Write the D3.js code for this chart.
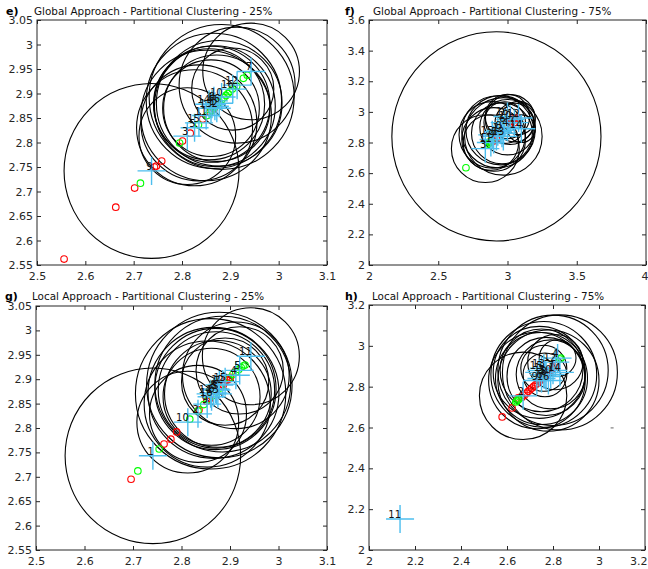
<!DOCTYPE html>
<html>
<head>
<meta charset="utf-8">
<script src="https://cdn.jsdelivr.net/npm/d3@7"></script>
<style>
  body { margin: 0; background: #fff; }
  text { font-family: "DejaVu Sans", Verdana, sans-serif; }
</style>
</head>
<body>
<svg id="chart" width="648" height="569"></svg>
<script>
// Eixos de cada painel
var eTicksX = [2.5, 2.6, 2.7, 2.8, 2.9, 3, 3.1];
var eTicksY = [2.55, 2.6, 2.65, 2.7, 2.75, 2.8, 2.85, 2.9, 2.95, 3, 3.05];
var fTicksX = [2, 2.5, 3, 3.5, 4];
var fTicksY = [2, 2.2, 2.4, 2.6, 2.8, 3, 3.2, 3.4, 3.6];
var gTicksX = [2.5, 2.6, 2.7, 2.8, 2.9, 3, 3.1];
var gTicksY = [2.55, 2.6, 2.65, 2.7, 2.75, 2.8, 2.85, 2.9, 2.95, 3, 3.05];
var hTicksX = [2, 2.2, 2.4, 2.6, 2.8, 3, 3.2];
var hTicksY = [2, 2.2, 2.4, 2.6, 2.8, 3, 3.2];

// Clusters: [rotulo, x, y, raio]
var eClusters = [
  ["1", 2.868, 2.874, 0.125], ["2", 2.872, 2.870, 0.11], ["3", 2.811, 2.813, 0.10],
  ["4", 2.862, 2.878, 0.12], ["5", 2.826, 2.830, 0.12], ["6", 2.877, 2.880, 0.13],
  ["7", 2.943, 2.945, 0.10], ["8", 2.866, 2.885, 0.14], ["9", 2.737, 2.742, 0.181],
  ["10", 2.882, 2.893, 0.15], ["11", 2.850, 2.855, 0.135], ["12", 2.914, 2.917, 0.12],
  ["13", 2.860, 2.870, 0.10], ["14", 2.856, 2.878, 0.115], ["15", 2.835, 2.840, 0.12],
  ["16", 2.905, 2.909, 0.085]
];
var eRed = [[2.556, 2.562], [2.663, 2.668], [2.702, 2.707], [2.743, 2.75], [2.747, 2.752],
  [2.758, 2.762], [2.801, 2.803], [2.817, 2.819], [2.843, 2.848], [2.858, 2.862],
  [2.866, 2.869], [2.872, 2.876]];
var eGreen = [[2.714, 2.717], [2.795, 2.799], [2.834, 2.836], [2.852, 2.855], [2.857, 2.861],
  [2.862, 2.866], [2.867, 2.872], [2.872, 2.877], [2.877, 2.882], [2.882, 2.887],
  [2.887, 2.892], [2.891, 2.896], [2.895, 2.900], [2.899, 2.904], [2.904, 2.909],
  [2.913, 2.915], [2.927, 2.931], [2.935, 2.937]];

var fClusters = [
  ["1", 2.93, 2.87, 0.26], ["2", 2.96, 2.86, 0.22], ["3", 2.84, 2.76, 0.245],
  ["4", 3.00, 2.90, 0.20], ["5", 2.92, 2.84, 0.755], ["6", 2.98, 2.93, 0.15],
  ["7", 3.05, 2.93, 0.14], ["8", 2.95, 2.88, 0.25], ["9", 2.90, 2.82, 0.23],
  ["10", 3.02, 2.95, 0.18], ["11", 2.88, 2.80, 0.20], ["12", 3.08, 2.96, 0.12],
  ["13", 2.97, 2.84, 0.28], ["14", 3.10, 2.89, 0.10], ["15", 2.89, 2.85, 0.24],
  ["16", 3.00, 2.97, 0.16]
];
var fRed = [[3.02, 2.92], [3.03, 2.94], [3.04, 2.95], [3.05, 2.96], [3.06, 2.95],
  [3.05, 2.93], [3.07, 2.96], [2.88, 2.80], [2.90, 2.81], [2.92, 2.83]];
var fGreen = [[2.70, 2.635], [2.86, 2.79], [2.87, 2.80], [2.875, 2.805], [2.88, 2.81]];

var gClusters = [
  ["1", 2.741, 2.743, 0.181], ["2", 2.834, 2.829, 0.10], ["3", 2.872, 2.878, 0.12],
  ["4", 2.912, 2.908, 0.11], ["5", 2.920, 2.918, 0.09], ["6", 2.866, 2.872, 0.135],
  ["7", 2.878, 2.888, 0.15], ["8", 2.870, 2.880, 0.125], ["9", 2.853, 2.849, 0.13],
  ["10", 2.813, 2.812, 0.105], ["11", 2.943, 2.947, 0.10], ["12", 2.885, 2.890, 0.14],
  ["13", 2.875, 2.870, 0.11], ["14", 2.860, 2.870, 0.155], ["15", 2.890, 2.895, 0.09],
  ["16", 2.862, 2.864, 0.10]
];
var gRed = [[2.696, 2.695], [2.764, 2.767], [2.778, 2.777], [2.79, 2.792], [2.836, 2.837],
  [2.852, 2.855], [2.858, 2.86], [2.878, 2.885], [2.884, 2.89], [2.886, 2.888],
  [2.889, 2.894], [2.893, 2.898], [2.897, 2.9], [2.901, 2.904]];
var gGreen = [[2.71, 2.712], [2.754, 2.757], [2.817, 2.818], [2.834, 2.835], [2.846, 2.848],
  [2.855, 2.858], [2.864, 2.866], [2.872, 2.874], [2.88, 2.882], [2.898, 2.902],
  [2.906, 2.91], [2.912, 2.915], [2.918, 2.92], [2.923, 2.924], [2.927, 2.927],
  [2.931, 2.929]];

var hClusters = [
  ["1", 2.74, 2.87, 0.20], ["2", 2.67, 2.755, 0.19], ["3", 2.76, 2.86, 0.23],
  ["4", 2.82, 2.94, 0.08], ["5", 2.765, 2.858, 0.095], ["6", 2.75, 2.84, 0.20],
  ["7", 2.80, 2.88, 0.24], ["8", 2.77, 2.85, 0.17], ["9", 2.73, 2.83, 0.21],
  ["10", 2.79, 2.86, 0.15], ["11", 2.135, 2.152, 0], ["12", 2.81, 2.92, 0.12],
  ["13", 2.76, 2.89, 0.10], ["14", 2.83, 2.87, 0.25], ["15", 2.75, 2.88, 0.18],
  ["16", 2.78, 2.83, 0.22]
];
var hRed = [[2.579, 2.652], [2.622, 2.696], [2.648, 2.745], [2.665, 2.748], [2.675, 2.757],
  [2.685, 2.768], [2.692, 2.777], [2.70, 2.785], [2.708, 2.793], [2.716, 2.801],
  [2.724, 2.809], [2.732, 2.817], [2.74, 2.826], [2.748, 2.834], [2.756, 2.843],
  [2.764, 2.852], [2.772, 2.86], [2.78, 2.869], [2.788, 2.878], [2.796, 2.886],
  [2.804, 2.895], [2.812, 2.903]];
var hGreen = [[2.638, 2.725], [2.643, 2.73], [2.648, 2.735], [2.652, 2.74], [2.83, 2.935],
  [2.835, 2.94]];
var hStray = [[3.057, 2.598]];

var svg = d3.select("#chart");

// Desenha um painel completo
var drawPanel = function (p) {
  var x = d3.scaleLinear().domain(p.xDomain).range([p.left, p.right]);
  var y = d3.scaleLinear().domain(p.yDomain).range([p.bottom, p.top]);
  var g = svg.append("g");

  g.append("clipPath").attr("id", "clip-" + p.id)
    .append("rect")
    .attr("x", p.left).attr("y", p.top)
    .attr("width", p.right - p.left).attr("height", p.bottom - p.top);

  var plot = g.append("g").attr("clip-path", "url(#clip-" + p.id + ")");

  // Circulos dos clusters
  plot.selectAll("circle.big")
    .data(p.clusters.filter(function (d) { return d[3] > 0; }))
    .enter().append("circle")
    .attr("class", "big")
    .attr("cx", function (d) { return x(d[1]); })
    .attr("cy", function (d) { return y(d[2]); })
    .attr("r", function (d) { return x(d[1] + d[3]) - x(d[1]); })
    .attr("fill", "none")
    .attr("stroke", "#000")
    .attr("stroke-width", 1.1);

  // Pontos vermelhos e verdes
  var dots = function (data, color) {
    plot.append("g").selectAll("circle")
      .data(data)
      .enter().append("circle")
      .attr("cx", function (d) { return x(d[0]); })
      .attr("cy", function (d) { return y(d[1]); })
      .attr("r", 3.3)
      .attr("fill", "none")
      .attr("stroke", color)
      .attr("stroke-width", 1.1);
  };
  dots(p.red, "#ff0000");
  dots(p.green, "#00ff00");

  // Cruzes ciano
  plot.append("g").selectAll("path")
    .data(p.clusters)
    .enter().append("path")
    .attr("d", function (d) {
      var cx = x(d[1]), cy = y(d[2]);
      return "M" + (cx - 14) + "," + cy + "H" + (cx + 14) +
        "M" + cx + "," + (cy - 14) + "V" + (cy + 14);
    })
    .attr("stroke", "#4dbeee")
    .attr("stroke-width", 1.4)
    .attr("fill", "none");

  if (p.stray) {
    plot.append("g").selectAll("path")
      .data(p.stray)
      .enter().append("path")
      .attr("d", function (d) {
        return "M" + (x(d[0]) - 1.5) + "," + y(d[1]) + "H" + (x(d[0]) + 1.5);
      })
      .attr("stroke", "#666");
  }

  // Rotulos dos clusters
  plot.append("g").selectAll("text")
    .data(p.clusters)
    .enter().append("text")
    .attr("x", function (d) { return x(d[1]) + 1; })
    .attr("y", function (d) { return y(d[2]) - 1; })
    .attr("text-anchor", "end")
    .attr("font-size", "10px")
    .attr("fill", "#111")
    .text(function (d) { return d[0]; });

  // Eixos com marcas para dentro
  var fmt = function (v) { return String(+v.toFixed(2)); };
  var styleAxis = function (sel) {
    sel.select(".domain").remove();
    sel.selectAll("line").attr("stroke", "#262626");
    sel.selectAll("text").attr("fill", "#262626").attr("font-size", "11px")
      .attr("font-family", "DejaVu Sans, Verdana, sans-serif");
  };
  var bottomAxis = g.append("g").attr("transform", "translate(0," + p.bottom + ")")
    .call(d3.axisBottom(x).tickValues(p.ticksX).tickFormat(fmt).tickSize(-4).tickPadding(7))
    .call(styleAxis);
  // ultimo rotulo encostado na borda da figura
  if (p.right > 640) {
    bottomAxis.selectAll(".tick:last-of-type text")
      .attr("text-anchor", "end").attr("dx", 2);
  }
  g.append("g").attr("transform", "translate(0," + p.top + ")")
    .call(d3.axisTop(x).tickValues(p.ticksX).tickFormat("").tickSize(-4))
    .call(styleAxis);
  g.append("g").attr("transform", "translate(" + p.left + ",0)")
    .call(d3.axisLeft(y).tickValues(p.ticksY).tickFormat(fmt).tickSize(-4).tickPadding(4))
    .call(styleAxis);
  g.append("g").attr("transform", "translate(" + p.right + ",0)")
    .call(d3.axisRight(y).tickValues(p.ticksY).tickFormat("").tickSize(-4))
    .call(styleAxis);

  g.append("rect")
    .attr("x", p.left).attr("y", p.top)
    .attr("width", p.right - p.left).attr("height", p.bottom - p.top)
    .attr("fill", "none").attr("stroke", "#262626").attr("stroke-width", 1);

  // Titulo e letra do painel
  g.append("text")
    .attr("x", p.letterX).attr("y", p.titleY)
    .attr("font-family", "DejaVu Serif, Liberation Serif, serif")
    .attr("font-weight", "bold").attr("font-size", "11px")
    .text(p.letter);
  g.append("text")
    .attr("x", p.titleX).attr("y", p.titleY)
    .attr("font-size", "10.4px").attr("fill", "#111")
    .text(p.title);
};

drawPanel({ id: "e", letter: "e)", title: "Global Approach - Partitional Clustering - 25%",
  letterX: 6, titleX: 34, titleY: 15,
  left: 37, right: 327, top: 20, bottom: 265, xDomain: [2.5, 3.1], yDomain: [2.55, 3.05],
  ticksX: eTicksX, ticksY: eTicksY, clusters: eClusters, red: eRed, green: eGreen });
drawPanel({ id: "f", letter: "f)", title: "Global Approach - Partitional Clustering - 75%",
  letterX: 345, titleX: 373, titleY: 15,
  left: 369, right: 646, top: 20, bottom: 265, xDomain: [2, 4], yDomain: [2, 3.6],
  ticksX: fTicksX, ticksY: fTicksY, clusters: fClusters, red: fRed, green: fGreen });
drawPanel({ id: "g", letter: "g)", title: "Local Approach - Partitional Clustering - 25%",
  letterX: 5, titleX: 32, titleY: 300,
  left: 36, right: 327, top: 306, bottom: 550, xDomain: [2.5, 3.1], yDomain: [2.55, 3.05],
  ticksX: gTicksX, ticksY: gTicksY, clusters: gClusters, red: gRed, green: gGreen });
drawPanel({ id: "h", letter: "h)", title: "Local Approach - Partitional Clustering - 75%",
  letterX: 345, titleX: 372, titleY: 300,
  left: 369, right: 645, top: 305, bottom: 550, xDomain: [2, 3.2], yDomain: [2, 3.2],
  ticksX: hTicksX, ticksY: hTicksY, clusters: hClusters, red: hRed, green: hGreen, stray: hStray });
</script>
</body>
</html>
